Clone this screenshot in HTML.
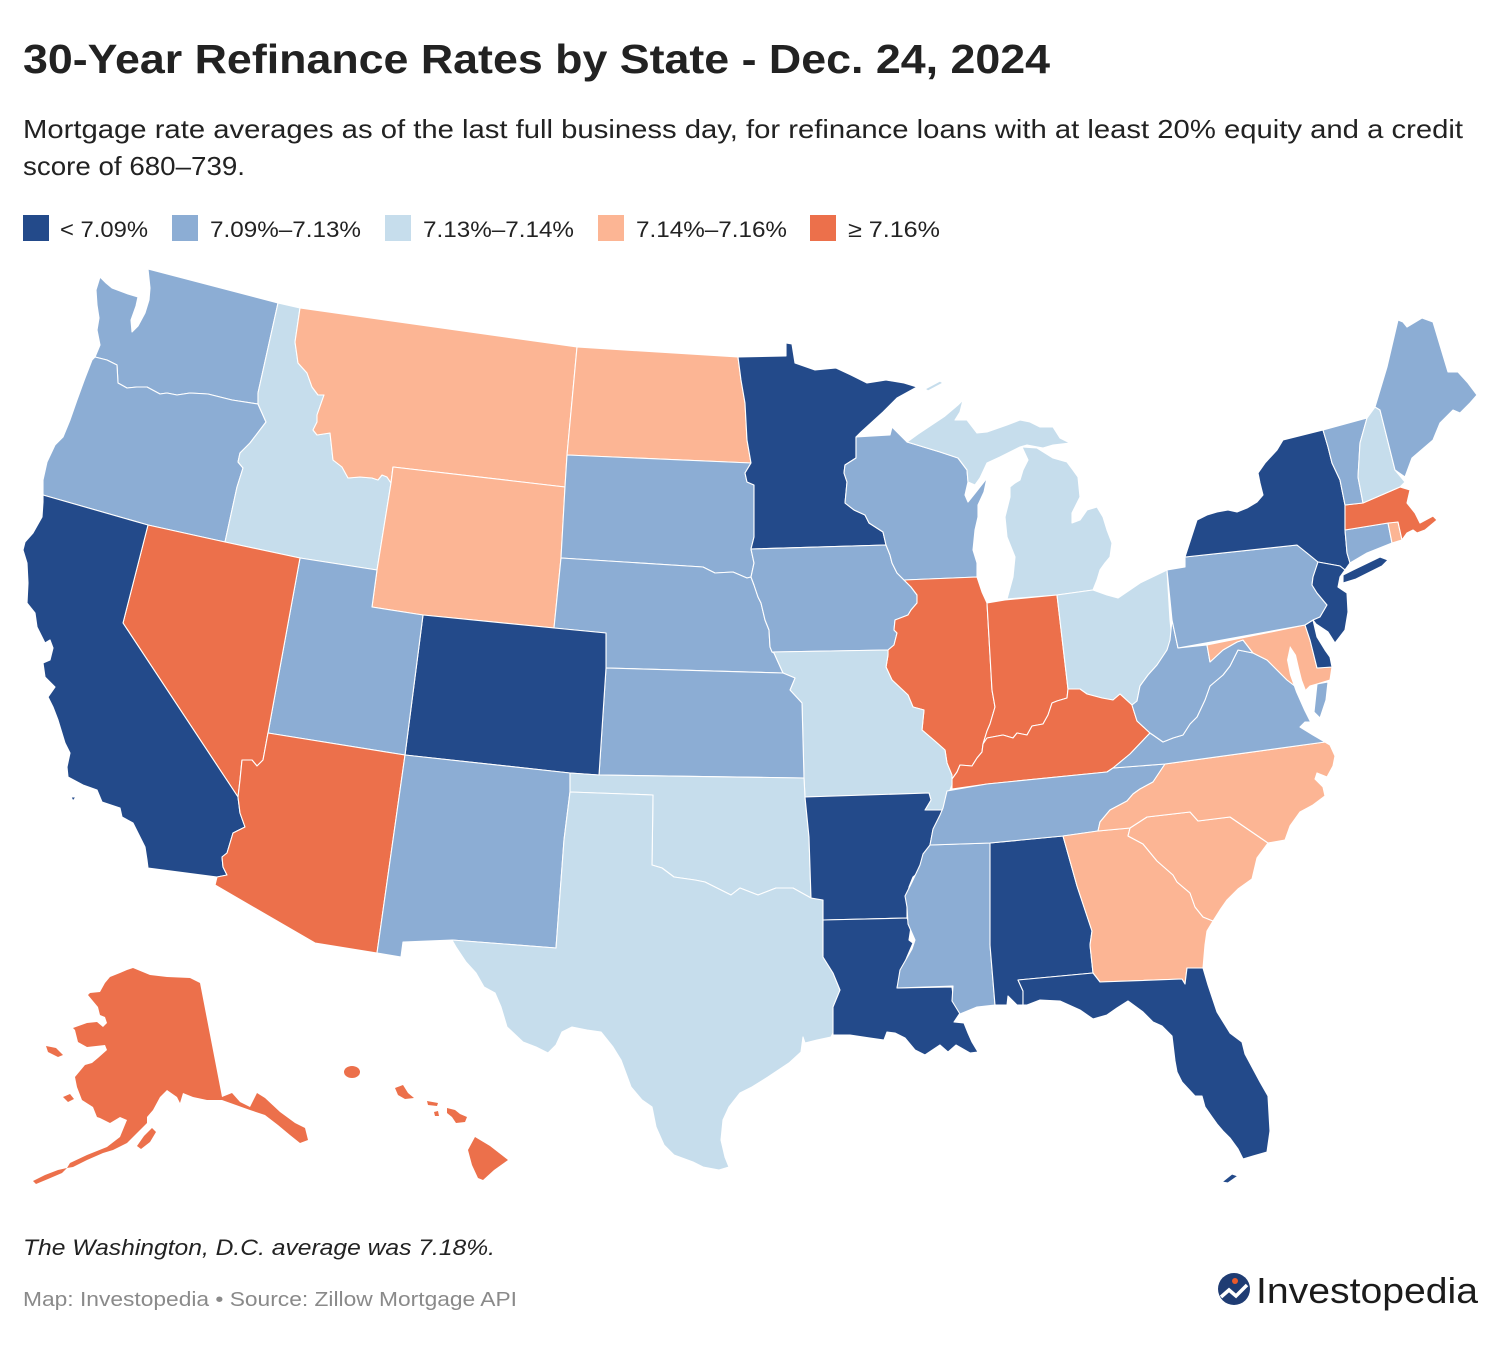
<!DOCTYPE html>
<html><head><meta charset="utf-8"><style>
html,body{margin:0;padding:0;background:#fff;}
svg{display:block;}
.st{stroke:#fff;stroke-width:1.1;stroke-linejoin:round;}
.d{fill:#234a8a}.m{fill:#8cadd4}.l{fill:#c6ddec}.p{fill:#fcb594}.o{fill:#ec704b}
text{font-family:"Liberation Sans",sans-serif;}
</style></head><body>
<svg width="1500" height="1346" viewBox="0 0 1500 1346" xmlns="http://www.w3.org/2000/svg">
<rect width="1500" height="1346" fill="#fff"/>
<text x="23" y="73" font-size="41" font-weight="bold" fill="#222" textLength="1027" lengthAdjust="spacingAndGlyphs">30-Year Refinance Rates by State - Dec. 24, 2024</text>
<text x="23" y="138" font-size="26" fill="#222" textLength="1440" lengthAdjust="spacingAndGlyphs">Mortgage rate averages as of the last full business day, for refinance loans with at least 20% equity and a credit</text>
<text x="23" y="175" font-size="26" fill="#222" textLength="222" lengthAdjust="spacingAndGlyphs">score of 680–739.</text>
<rect x="23" y="215" width="26" height="26" class="d"/>
<text x="60" y="237" font-size="22" fill="#222" textLength="88" lengthAdjust="spacingAndGlyphs">&lt; 7.09%</text>
<rect x="172" y="215" width="26" height="26" class="m"/>
<text x="210" y="237" font-size="22" fill="#222" textLength="151" lengthAdjust="spacingAndGlyphs">7.09%–7.13%</text>
<rect x="385" y="215" width="26" height="26" class="l"/>
<text x="423" y="237" font-size="22" fill="#222" textLength="151" lengthAdjust="spacingAndGlyphs">7.13%–7.14%</text>
<rect x="598" y="215" width="26" height="26" class="p"/>
<text x="636" y="237" font-size="22" fill="#222" textLength="151" lengthAdjust="spacingAndGlyphs">7.14%–7.16%</text>
<rect x="810" y="215" width="26" height="26" class="o"/>
<text x="848" y="237" font-size="22" fill="#222" textLength="92" lengthAdjust="spacingAndGlyphs">≥ 7.16%</text>

<g class="st">
<polygon class="m" points="100,277 106,283 112,288 128,294 138,297 136,306 131,320 132,332 138,326 145,313 149,300 150,288 148,269 278,303 258,393 258,404 232,400 208,394 190,393 177,395 167,393 160,394 147,387 137,387 127,388 118,383 117,365 107,360 95,357 100,345 97,330 99,318 97,305 96,290"/>
<polygon class="m" points="95,357 107,360 117,365 118,383 127,388 137,387 147,387 160,394 167,393 177,395 190,393 208,394 232,400 258,404 266,422 250,443 240,453 238,462 243,468 237,487 225,542 148,525 43,495 43,480 47,462 55,445 63,437 70,420 77,400 85,378 92,360"/>
<polygon class="l" points="278,303 300,308 295,342 298,363 307,373 312,387 318,395 324,395 317,415 317,422 313,430 317,435 330,433 333,460 342,467 348,478 360,477 372,478 378,480 382,475 387,477 391,483 377,570 300,558 225,542 237,487 243,468 238,462 240,453 250,443 266,422 258,404 258,393"/>
<polygon class="p" points="300,308 577,347 567,455 565,487 393,467 391,483 387,477 382,475 378,480 372,478 360,477 348,478 342,467 333,460 330,433 317,435 313,430 317,422 317,415 324,395 318,395 312,387 307,373 298,363 295,342"/>
<polygon class="p" points="393,467 565,487 561,558 554,628 423,615 372,607 377,570 391,483"/>
<polygon class="p" points="577,347 738,357 741,380 745,403 747,440 751,463 567,455"/>
<polygon class="m" points="567,455 751,463 745,473 747,482 754,485 754,537 751,549 754,563 751,577 747,578 733,572 715,573 703,567 561,558 565,487"/>
<polygon class="m" points="561,558 703,567 715,573 733,572 747,578 751,577 754,585 758,597 761,603 765,620 769,630 770,647 774,653 783,673 606,668 606,633 554,628"/>
<polygon class="d" points="738,357 786,356 786,343 792,344 795,363 815,370 836,368 851,375 867,383 886,380 904,383 917,387 897,398 883,412 861,432 856,437 856,458 845,465 844,473 847,482 845,503 854,510 865,515 869,523 883,532 886,545 751,549 754,537 754,485 747,482 745,473 751,463 747,440 745,403 741,380"/>
<polygon class="m" points="751,549 886,545 890,555 892,563 897,573 904,580 911,587 917,595 917,603 911,610 908,615 895,620 894,630 897,633 894,645 888,650 772,652 770,647 769,630 765,620 761,603 758,597 754,585 751,577 754,563"/>
<polygon class="m" points="856,437 890,435 892,427 907,442 940,452 958,458 967,470 968,482 965,495 968,502 976,492 987,478 984,492 978,505 978,517 975,530 973,550 977,563 977,577 904,580 897,573 892,563 890,555 886,545 883,532 869,523 865,515 854,510 845,503 847,482 844,473 845,465 856,458"/>
<polygon class="l" points="907,442 918,434 930,426 945,416 958,405 963,400 960,412 955,420 967,420 977,433 987,432 1007,425 1020,420 1030,422 1040,427 1053,427 1060,438 1070,443 1053,445 1043,448 1027,445 1020,447 1000,457 987,463 980,478 975,485 968,482 967,470 958,458 940,452"/>
<polygon class="l" points="1022,447 1037,448 1053,458 1067,462 1073,470 1078,477 1080,497 1077,503 1072,513 1072,523 1080,520 1087,510 1097,507 1103,517 1107,530 1112,543 1110,557 1105,563 1100,570 1097,580 1093,590 1057,595 1007,599 1013,577 1015,557 1007,537 1005,517 1010,497 1010,487 1015,483 1020,480 1023,470 1028,460"/>
<polygon class="l" points="925,389 940,381 943,383 928,391"/>
<polygon class="o" points="904,580 977,577 982,592 987,603 992,690 995,707 990,724 987,731 983,744 982,752 977,758 972,766 960,765 957,772 952,779 947,763 945,750 936,742 922,730 924,710 913,707 908,695 892,680 886,667 888,655 888,650 894,645 897,633 894,630 895,620 908,615 911,610 917,603 917,595 911,587"/>
<polygon class="o" points="987,603 1005,600 1057,595 1068,689 1067,698 1057,701 1052,703 1048,715 1043,724 1032,726 1027,735 1017,733 1013,738 1003,735 987,738 983,744 987,731 990,724 995,707 992,690"/>
<polygon class="l" points="1057,595 1093,590 1107,595 1118,598 1140,583 1167,570 1170,620 1172,640 1167,650 1157,665 1148,675 1140,686 1137,701 1132,705 1120,694 1113,700 1102,698 1087,694 1080,689 1068,689"/>
<polygon class="o" points="952,779 957,772 960,765 972,766 977,758 982,752 983,744 987,738 1003,735 1013,738 1017,733 1027,735 1032,726 1043,724 1048,715 1052,703 1057,701 1067,698 1068,689 1080,689 1087,694 1102,698 1113,700 1120,694 1132,705 1137,721 1150,733 1130,754 1113,768 1107,772 987,784 952,789"/>
<polygon class="l" points="772,652 888,650 888,655 886,667 892,680 908,695 913,707 924,710 922,730 936,742 945,750 947,763 952,775 952,785 950,790 944,810 925,810 931,800 929,793 805,797 804,778 802,703 790,690 795,678 783,673 774,653"/>
<polygon class="m" points="606,668 783,673 795,678 790,690 802,703 804,778 599,775"/>
<polygon class="d" points="423,615 554,628 606,633 606,668 599,775 570,773 405,755"/>
<polygon class="m" points="300,558 377,570 372,607 423,615 405,755 268,733"/>
<polygon class="o" points="148,525 225,542 300,558 268,733 263,760 257,766 252,760 242,760 240,780 238,797 123,623"/>
<polygon class="d" points="43,495 148,525 123,623 238,797 240,813 245,827 233,833 227,853 222,857 223,867 227,875 217,877 148,868 147,860 145,847 133,823 122,817 120,808 102,802 97,790 83,785 68,777 67,767 70,753 65,743 58,720 53,707 48,697 55,687 45,677 43,663 50,660 53,648 50,640 45,643 37,627 35,613 27,603 28,583 27,563 23,550 25,542 33,533 42,517 43,502"/>
<polygon class="d" points="71,797 76,797 73,801"/>
<polygon class="o" points="268,733 405,755 377,953 315,943 215,885 217,877 227,875 223,867 222,857 227,853 233,833 245,827 240,813 238,797 240,780 242,760 252,760 257,766 263,760"/>
<polygon class="m" points="405,755 570,773 570,792 564,840 556,948 452,940 403,942 401,957 377,953"/>
<polygon class="l" points="570,773 599,775 804,778 805,797 809,837 811,898 793,888 776,888 758,895 740,888 731,895 715,887 705,882 695,880 674,877 662,868 652,865 653,795 570,792"/>
<polygon class="l" points="570,792 653,795 652,865 662,868 674,877 695,880 705,882 715,887 731,895 740,888 758,895 776,888 793,888 811,898 823,900 823,920 823,957 833,973 840,990 835,1007 833,1033 831,1037 817,1040 805,1043 803,1037 801,1052 789,1063 768,1077 752,1087 740,1093 729,1107 723,1120 721,1140 725,1157 729,1167 719,1170 703,1167 693,1162 674,1155 664,1145 656,1127 652,1107 642,1100 631,1087 621,1060 613,1047 601,1032 587,1030 572,1027 562,1032 556,1045 548,1053 536,1047 523,1042 507,1027 501,1007 495,993 484,987 476,973 466,962 456,947 452,940 556,948 564,840"/>
<polygon class="d" points="805,797 929,793 931,800 925,810 944,810 940,817 933,830 929,850 923,860 921,870 913,877 909,887 907,903 907,918 823,920 823,900 811,898 809,837"/>
<polygon class="d" points="823,920 907,918 911,927 909,940 913,943 907,957 901,973 897,988 952,987 954,1003 960,1013 954,1022 964,1023 968,1033 972,1042 978,1052 970,1053 956,1045 948,1052 940,1045 925,1055 915,1050 905,1038 895,1033 887,1032 884,1040 870,1038 850,1035 833,1035 833,1007 840,990 833,973 823,957"/>
<polygon class="m" points="930,845 990,843 992,847 990,945 995,1005 977,1007 960,1014 952,1001 953,986 897,988 900,970 912,949 915,940 908,924 907,907 905,896 912,882 920,865 923,854"/>
<polygon class="d" points="990,843 1063,836 1077,886 1092,931 1090,945 1093,973 1018,980 1023,991 1023,1005 1017,1005 1008,996 1007,1005 995,1005 990,945"/>
<polygon class="m" points="947,791 987,784 1107,772 1113,768 1165,764 1153,782 1140,789 1133,794 1127,801 1110,810 1100,822 1098,831 1063,836 990,843 930,845 933,829 940,815 943,808"/>
<polygon class="p" points="1063,836 1098,831 1130,828 1128,836 1143,844 1157,861 1173,875 1177,882 1190,893 1195,907 1203,917 1213,921 1207,931 1205,945 1203,968 1187,968 1185,984 1182,979 1100,982 1093,973 1090,945 1092,931 1077,886"/>
<polygon class="d" points="1093,973 1100,982 1182,979 1185,984 1187,968 1203,968 1208,985 1217,1012 1230,1033 1242,1042 1245,1054 1260,1082 1268,1096 1270,1131 1268,1145 1267,1152 1253,1156 1243,1159 1238,1149 1230,1138 1223,1131 1217,1124 1212,1117 1205,1107 1202,1096 1195,1096 1182,1082 1177,1072 1175,1061 1172,1036 1162,1026 1153,1022 1143,1012 1128,1001 1117,1008 1107,1015 1093,1019 1080,1010 1060,1001 1040,1000 1027,1005 1023,1005 1023,991 1018,980"/>
<polygon class="d" points="1222,1182 1232,1174 1238,1176 1228,1183"/>
<polygon class="p" points="1130,828 1147,817 1190,812 1198,821 1230,817 1268,843 1257,858 1252,879 1238,889 1227,900 1220,910 1213,921 1203,917 1195,907 1190,893 1177,882 1173,875 1157,861 1143,844 1128,836"/>
<polygon class="p" points="1165,764 1325,742 1330,745 1335,756 1333,766 1327,777 1317,773 1315,779 1323,787 1325,796 1313,805 1300,812 1290,826 1285,840 1268,843 1230,817 1198,821 1190,812 1147,817 1130,828 1098,831 1100,822 1110,810 1127,801 1133,794 1140,789 1153,782"/>
<polygon class="m" points="1113,768 1130,754 1150,733 1153,735 1163,742 1173,738 1183,735 1190,724 1197,717 1205,700 1210,686 1223,675 1230,666 1238,650 1253,653 1267,660 1280,673 1287,680 1300,690 1307,700 1313,713 1318,722 1305,722 1300,727 1313,735 1325,742 1165,764"/>
<polygon class="m" points="1317,684 1328,682 1326,700 1320,718 1314,712"/>
<polygon class="m" points="1172,620 1178,648 1207,645 1210,662 1223,650 1237,642 1243,640 1253,653 1238,650 1230,666 1223,675 1210,686 1205,700 1197,717 1190,724 1183,735 1173,738 1163,742 1153,735 1150,733 1137,721 1132,705 1137,701 1140,686 1148,675 1157,665 1167,650 1170,640"/>
<polygon class="p" points="1207,645 1305,625 1310,640 1317,668 1332,667 1330,680 1317,684 1310,686 1303,693 1300,690 1287,680 1280,673 1267,660 1253,653 1243,640 1237,642 1223,650 1210,662"/>
<polygon class="d" points="1305,625 1313,620 1317,637 1325,650 1330,657 1332,667 1317,668 1310,640"/>
<polygon class="m" points="1167,570 1185,567 1185,557 1297,545 1307,553 1318,562 1313,577 1312,585 1317,593 1327,605 1320,617 1313,620 1305,625 1178,648 1172,620"/>
<polygon class="d" points="1185,557 1197,520 1207,515 1217,512 1228,510 1237,512 1247,508 1257,502 1263,495 1260,483 1258,473 1265,463 1277,450 1283,440 1323,430 1328,447 1332,463 1340,480 1345,505 1345,530 1347,553 1350,563 1345,570 1340,566 1318,562 1307,553 1297,545"/>
<polygon class="d" points="1343,575 1353,570 1380,557 1388,560 1382,566 1356,579 1343,583"/>
<polygon class="d" points="1318,562 1340,566 1345,570 1340,577 1338,587 1347,593 1348,612 1345,630 1335,643 1328,632 1316,624 1313,620 1320,617 1327,605 1317,593 1312,585 1313,577"/>
<polygon class="m" points="1345,530 1388,523 1392,543 1367,553 1350,563 1347,553"/>
<polygon class="p" points="1388,523 1398,522 1402,540 1392,543"/>
<polygon class="o" points="1345,505 1363,503 1400,487 1410,490 1407,503 1415,513 1420,523 1433,516 1437,520 1425,530 1417,533 1413,530 1407,533 1402,540 1398,522 1388,523 1345,530"/>
<polygon class="m" points="1323,430 1367,418 1360,443 1358,477 1363,503 1345,505 1340,480 1332,463 1328,447"/>
<polygon class="l" points="1367,418 1375,407 1380,410 1395,470 1405,482 1400,487 1363,503 1358,477 1360,443"/>
<polygon class="m" points="1375,407 1387,367 1398,320 1403,322 1407,327 1422,318 1433,322 1448,372 1458,372 1468,383 1477,395 1470,403 1460,413 1453,410 1440,423 1433,440 1412,458 1405,477 1395,470 1380,410"/>
</g>
<polygon fill="#fff" points="1290,646 1296,655 1299,668 1302,680 1307,693 1312,708 1318,722 1311,724 1304,710 1296,692 1290,675 1287,660"/>

<g class="o">
<polygon points="133,968 150,975 167,977 190,978 200,983 222,1097 232,1093 240,1102 250,1107 257,1093 265,1098 280,1112 295,1123 305,1128 308,1140 300,1143 290,1135 278,1125 265,1115 250,1110 222,1100 207,1100 193,1097 183,1093 180,1103 177,1097 167,1090 160,1097 153,1110 147,1117 147,1123 140,1130 127,1143 113,1150 103,1153 87,1160 73,1167 67,1168 70,1163 87,1155 107,1147 120,1137 127,1120 120,1117 110,1123 100,1118 97,1117 93,1107 82,1100 77,1087 75,1077 85,1065 92,1063 98,1058 107,1050 105,1045 87,1047 78,1042 75,1030 73,1028 87,1023 97,1022 103,1027 107,1023 105,1017 100,1015 98,1007 88,995 90,993 100,992 105,983 110,977 120,973 127,970"/>
<polygon points="33,1181 45,1175 58,1170 67,1168 62,1173 48,1179 36,1184"/>
<polygon points="46,1046 56,1048 63,1055 58,1057 48,1052"/>
<polygon points="63,1097 70,1094 74,1099 68,1102"/>
<polygon points="137,1146 144,1136 152,1128 156,1132 150,1142 141,1149"/>
<ellipse cx="352" cy="1072" rx="8" ry="6"/>
<polygon points="395,1088 403,1085 408,1093 414,1098 405,1099 398,1095"/>
<polygon points="427,1101 438,1103 437,1106 428,1105"/>
<polygon points="434,1112 438,1111 439,1116 435,1116"/>
<polygon points="447,1108 455,1110 460,1114 467,1117 465,1122 456,1123 452,1117 447,1113"/>
<polygon points="475,1137 490,1146 508,1160 494,1170 483,1180 478,1178 472,1165 468,1150"/>
</g>

<text x="23" y="1255" font-size="22" font-style="italic" fill="#222" textLength="472" lengthAdjust="spacingAndGlyphs">The Washington, D.C. average was 7.18%.</text>
<text x="23" y="1306" font-size="20" fill="#8a8a8a" textLength="494" lengthAdjust="spacingAndGlyphs">Map: Investopedia • Source: Zillow Mortgage API</text>
<circle cx="1234" cy="1289" r="16" fill="#1f3c73"/>
<polyline points="1221,1297 1229,1290 1236,1296 1247,1285" fill="none" stroke="#fff" stroke-width="3.5"/>
<circle cx="1235" cy="1281" r="3" fill="#ec5a2a"/>
<text x="1256" y="1303" font-size="36" fill="#1b1b1b" textLength="222" lengthAdjust="spacingAndGlyphs">Investopedia</text>
</svg>
</body></html>
